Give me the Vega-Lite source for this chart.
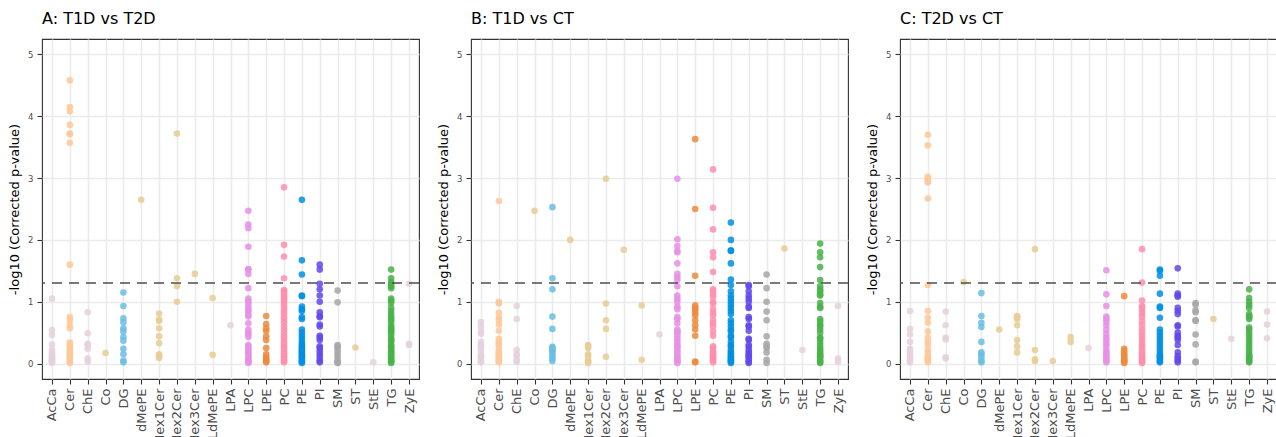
{
"$schema": "https://vega.github.io/schema/vega-lite/v6.json",
"padding": {"left": 8, "top": 10, "right": 0, "bottom": 0},
"background": "white",
"datasets": {
"pts": [
{"panel":"A","class":"AcCa","logp":1.05},{"panel":"A","class":"AcCa","logp":0.54},{"panel":"A","class":"AcCa","logp":0.46},{"panel":"A","class":"AcCa","logp":0.31},{"panel":"A","class":"AcCa","logp":0.22},{"panel":"A","class":"AcCa","logp":0.17},{"panel":"A","class":"AcCa","logp":0.14},{"panel":"A","class":"AcCa","logp":0.11},{"panel":"A","class":"AcCa","logp":0.09},{"panel":"A","class":"AcCa","logp":0.07},{"panel":"A","class":"AcCa","logp":0.05},{"panel":"A","class":"AcCa","logp":0.03},{"panel":"A","class":"AcCa","logp":0.02},{"panel":"A","class":"AcCa","logp":0.01},
{"panel":"A","class":"Cer","logp":4.58},{"panel":"A","class":"Cer","logp":4.15},{"panel":"A","class":"Cer","logp":4.08},{"panel":"A","class":"Cer","logp":3.86},{"panel":"A","class":"Cer","logp":3.72},{"panel":"A","class":"Cer","logp":3.71},{"panel":"A","class":"Cer","logp":3.57},{"panel":"A","class":"Cer","logp":1.6},{"panel":"A","class":"Cer","logp":0.75},{"panel":"A","class":"Cer","logp":0.69},{"panel":"A","class":"Cer","logp":0.61},{"panel":"A","class":"Cer","logp":0.57},{"panel":"A","class":"Cer","logp":0.34},{"panel":"A","class":"Cer","logp":0.31},{"panel":"A","class":"Cer","logp":0.28},{"panel":"A","class":"Cer","logp":0.25},{"panel":"A","class":"Cer","logp":0.21},{"panel":"A","class":"Cer","logp":0.18},{"panel":"A","class":"Cer","logp":0.15},{"panel":"A","class":"Cer","logp":0.12},{"panel":"A","class":"Cer","logp":0.09},{"panel":"A","class":"Cer","logp":0.06},{"panel":"A","class":"Cer","logp":0.03},{"panel":"A","class":"Cer","logp":0.01},
{"panel":"A","class":"ChE","logp":0.83},{"panel":"A","class":"ChE","logp":0.49},{"panel":"A","class":"ChE","logp":0.32},{"panel":"A","class":"ChE","logp":0.29},{"panel":"A","class":"ChE","logp":0.24},{"panel":"A","class":"ChE","logp":0.08},{"panel":"A","class":"ChE","logp":0.03},
{"panel":"A","class":"Co","logp":0.17},
{"panel":"A","class":"DG","logp":1.15},{"panel":"A","class":"DG","logp":0.93},{"panel":"A","class":"DG","logp":0.73},{"panel":"A","class":"DG","logp":0.67},{"panel":"A","class":"DG","logp":0.57},{"panel":"A","class":"DG","logp":0.52},{"panel":"A","class":"DG","logp":0.43},{"panel":"A","class":"DG","logp":0.37},{"panel":"A","class":"DG","logp":0.24},{"panel":"A","class":"DG","logp":0.15},{"panel":"A","class":"DG","logp":0.05},{"panel":"A","class":"DG","logp":0.02},
{"panel":"A","class":"dMePE","logp":2.65},
{"panel":"A","class":"Hex1Cer","logp":0.81},{"panel":"A","class":"Hex1Cer","logp":0.71},{"panel":"A","class":"Hex1Cer","logp":0.69},{"panel":"A","class":"Hex1Cer","logp":0.57},{"panel":"A","class":"Hex1Cer","logp":0.44},{"panel":"A","class":"Hex1Cer","logp":0.33},{"panel":"A","class":"Hex1Cer","logp":0.15},{"panel":"A","class":"Hex1Cer","logp":0.12},{"panel":"A","class":"Hex1Cer","logp":0.09},
{"panel":"A","class":"Hex2Cer","logp":3.72},{"panel":"A","class":"Hex2Cer","logp":1.38},{"panel":"A","class":"Hex2Cer","logp":1.25},{"panel":"A","class":"Hex2Cer","logp":1.0},
{"panel":"A","class":"Hex3Cer","logp":1.45},
{"panel":"A","class":"LdMePE","logp":1.06},{"panel":"A","class":"LdMePE","logp":0.14},
{"panel":"A","class":"LPA","logp":0.62},
{"panel":"A","class":"LPC","logp":2.47},{"panel":"A","class":"LPC","logp":2.25},{"panel":"A","class":"LPC","logp":2.19},{"panel":"A","class":"LPC","logp":1.89},{"panel":"A","class":"LPC","logp":1.53},{"panel":"A","class":"LPC","logp":1.52},{"panel":"A","class":"LPC","logp":1.45},{"panel":"A","class":"LPC","logp":1.22},{"panel":"A","class":"LPC","logp":1.05},{"panel":"A","class":"LPC","logp":1.01},{"panel":"A","class":"LPC","logp":0.97},{"panel":"A","class":"LPC","logp":0.92},{"panel":"A","class":"LPC","logp":0.87},{"panel":"A","class":"LPC","logp":0.84},{"panel":"A","class":"LPC","logp":0.79},{"panel":"A","class":"LPC","logp":0.76},{"panel":"A","class":"LPC","logp":0.65},{"panel":"A","class":"LPC","logp":0.55},{"panel":"A","class":"LPC","logp":0.5},{"panel":"A","class":"LPC","logp":0.47},{"panel":"A","class":"LPC","logp":0.43},{"panel":"A","class":"LPC","logp":0.3},{"panel":"A","class":"LPC","logp":0.27},{"panel":"A","class":"LPC","logp":0.24},{"panel":"A","class":"LPC","logp":0.2},{"panel":"A","class":"LPC","logp":0.17},{"panel":"A","class":"LPC","logp":0.14},{"panel":"A","class":"LPC","logp":0.1},{"panel":"A","class":"LPC","logp":0.07},{"panel":"A","class":"LPC","logp":0.05},{"panel":"A","class":"LPC","logp":0.03},{"panel":"A","class":"LPC","logp":0.01},
{"panel":"A","class":"LPE","logp":0.77},{"panel":"A","class":"LPE","logp":0.64},{"panel":"A","class":"LPE","logp":0.57},{"panel":"A","class":"LPE","logp":0.53},{"panel":"A","class":"LPE","logp":0.44},{"panel":"A","class":"LPE","logp":0.38},{"panel":"A","class":"LPE","logp":0.25},{"panel":"A","class":"LPE","logp":0.15},{"panel":"A","class":"LPE","logp":0.1},{"panel":"A","class":"LPE","logp":0.07},{"panel":"A","class":"LPE","logp":0.04},{"panel":"A","class":"LPE","logp":0.02},
{"panel":"A","class":"PC","logp":2.85},{"panel":"A","class":"PC","logp":1.92},{"panel":"A","class":"PC","logp":1.73},{"panel":"A","class":"PC","logp":1.38},{"panel":"A","class":"PC","logp":1.19},{"panel":"A","class":"PC","logp":1.17},{"panel":"A","class":"PC","logp":1.14},{"panel":"A","class":"PC","logp":1.11},{"panel":"A","class":"PC","logp":1.07},{"panel":"A","class":"PC","logp":1.04},{"panel":"A","class":"PC","logp":1.0},{"panel":"A","class":"PC","logp":0.95},{"panel":"A","class":"PC","logp":0.9},{"panel":"A","class":"PC","logp":0.86},{"panel":"A","class":"PC","logp":0.81},{"panel":"A","class":"PC","logp":0.75},{"panel":"A","class":"PC","logp":0.71},{"panel":"A","class":"PC","logp":0.66},{"panel":"A","class":"PC","logp":0.6},{"panel":"A","class":"PC","logp":0.55},{"panel":"A","class":"PC","logp":0.5},{"panel":"A","class":"PC","logp":0.45},{"panel":"A","class":"PC","logp":0.41},{"panel":"A","class":"PC","logp":0.36},{"panel":"A","class":"PC","logp":0.32},{"panel":"A","class":"PC","logp":0.28},{"panel":"A","class":"PC","logp":0.25},{"panel":"A","class":"PC","logp":0.22},{"panel":"A","class":"PC","logp":0.18},{"panel":"A","class":"PC","logp":0.15},{"panel":"A","class":"PC","logp":0.12},{"panel":"A","class":"PC","logp":0.1},{"panel":"A","class":"PC","logp":0.07},{"panel":"A","class":"PC","logp":0.04},{"panel":"A","class":"PC","logp":0.02},
{"panel":"A","class":"PE","logp":2.65},{"panel":"A","class":"PE","logp":1.67},{"panel":"A","class":"PE","logp":1.44},{"panel":"A","class":"PE","logp":1.1},{"panel":"A","class":"PE","logp":1.09},{"panel":"A","class":"PE","logp":0.92},{"panel":"A","class":"PE","logp":0.88},{"panel":"A","class":"PE","logp":0.85},{"panel":"A","class":"PE","logp":0.75},{"panel":"A","class":"PE","logp":0.72},{"panel":"A","class":"PE","logp":0.55},{"panel":"A","class":"PE","logp":0.5},{"panel":"A","class":"PE","logp":0.45},{"panel":"A","class":"PE","logp":0.4},{"panel":"A","class":"PE","logp":0.35},{"panel":"A","class":"PE","logp":0.31},{"panel":"A","class":"PE","logp":0.28},{"panel":"A","class":"PE","logp":0.25},{"panel":"A","class":"PE","logp":0.22},{"panel":"A","class":"PE","logp":0.2},{"panel":"A","class":"PE","logp":0.17},{"panel":"A","class":"PE","logp":0.15},{"panel":"A","class":"PE","logp":0.12},{"panel":"A","class":"PE","logp":0.1},{"panel":"A","class":"PE","logp":0.08},{"panel":"A","class":"PE","logp":0.05},{"panel":"A","class":"PE","logp":0.03},{"panel":"A","class":"PE","logp":0.01},
{"panel":"A","class":"PI","logp":1.6},{"panel":"A","class":"PI","logp":1.52},{"panel":"A","class":"PI","logp":1.29},{"panel":"A","class":"PI","logp":1.2},{"panel":"A","class":"PI","logp":1.1},{"panel":"A","class":"PI","logp":1.0},{"panel":"A","class":"PI","logp":0.83},{"panel":"A","class":"PI","logp":0.77},{"panel":"A","class":"PI","logp":0.75},{"panel":"A","class":"PI","logp":0.63},{"panel":"A","class":"PI","logp":0.6},{"panel":"A","class":"PI","logp":0.45},{"panel":"A","class":"PI","logp":0.42},{"panel":"A","class":"PI","logp":0.38},{"panel":"A","class":"PI","logp":0.28},{"panel":"A","class":"PI","logp":0.25},{"panel":"A","class":"PI","logp":0.2},{"panel":"A","class":"PI","logp":0.15},{"panel":"A","class":"PI","logp":0.1},{"panel":"A","class":"PI","logp":0.05},{"panel":"A","class":"PI","logp":0.02},
{"panel":"A","class":"SM","logp":1.18},{"panel":"A","class":"SM","logp":0.99},{"panel":"A","class":"SM","logp":0.3},{"panel":"A","class":"SM","logp":0.28},{"panel":"A","class":"SM","logp":0.25},{"panel":"A","class":"SM","logp":0.2},{"panel":"A","class":"SM","logp":0.15},{"panel":"A","class":"SM","logp":0.1},{"panel":"A","class":"SM","logp":0.05},{"panel":"A","class":"SM","logp":0.02},{"panel":"A","class":"SM","logp":0.01},
{"panel":"A","class":"ST","logp":0.26},
{"panel":"A","class":"StE","logp":0.02},
{"panel":"A","class":"TG","logp":1.52},{"panel":"A","class":"TG","logp":1.38},{"panel":"A","class":"TG","logp":1.32},{"panel":"A","class":"TG","logp":1.28},{"panel":"A","class":"TG","logp":1.25},{"panel":"A","class":"TG","logp":1.22},{"panel":"A","class":"TG","logp":1.05},{"panel":"A","class":"TG","logp":1.02},{"panel":"A","class":"TG","logp":0.98},{"panel":"A","class":"TG","logp":0.9},{"panel":"A","class":"TG","logp":0.85},{"panel":"A","class":"TG","logp":0.8},{"panel":"A","class":"TG","logp":0.75},{"panel":"A","class":"TG","logp":0.72},{"panel":"A","class":"TG","logp":0.68},{"panel":"A","class":"TG","logp":0.62},{"panel":"A","class":"TG","logp":0.58},{"panel":"A","class":"TG","logp":0.55},{"panel":"A","class":"TG","logp":0.52},{"panel":"A","class":"TG","logp":0.5},{"panel":"A","class":"TG","logp":0.45},{"panel":"A","class":"TG","logp":0.4},{"panel":"A","class":"TG","logp":0.38},{"panel":"A","class":"TG","logp":0.35},{"panel":"A","class":"TG","logp":0.3},{"panel":"A","class":"TG","logp":0.28},{"panel":"A","class":"TG","logp":0.25},{"panel":"A","class":"TG","logp":0.22},{"panel":"A","class":"TG","logp":0.2},{"panel":"A","class":"TG","logp":0.17},{"panel":"A","class":"TG","logp":0.15},{"panel":"A","class":"TG","logp":0.12},{"panel":"A","class":"TG","logp":0.1},{"panel":"A","class":"TG","logp":0.07},{"panel":"A","class":"TG","logp":0.05},{"panel":"A","class":"TG","logp":0.03},{"panel":"A","class":"TG","logp":0.01},
{"panel":"A","class":"ZyE","logp":1.29},{"panel":"A","class":"ZyE","logp":0.32},{"panel":"A","class":"ZyE","logp":0.3},

{"panel":"B","class":"AcCa","logp":0.67},{"panel":"B","class":"AcCa","logp":0.6},{"panel":"B","class":"AcCa","logp":0.52},{"panel":"B","class":"AcCa","logp":0.48},{"panel":"B","class":"AcCa","logp":0.35},{"panel":"B","class":"AcCa","logp":0.3},{"panel":"B","class":"AcCa","logp":0.27},{"panel":"B","class":"AcCa","logp":0.25},{"panel":"B","class":"AcCa","logp":0.2},{"panel":"B","class":"AcCa","logp":0.15},{"panel":"B","class":"AcCa","logp":0.12},{"panel":"B","class":"AcCa","logp":0.1},{"panel":"B","class":"AcCa","logp":0.07},{"panel":"B","class":"AcCa","logp":0.04},{"panel":"B","class":"AcCa","logp":0.02},
{"panel":"B","class":"Cer","logp":2.63},{"panel":"B","class":"Cer","logp":1.0},{"panel":"B","class":"Cer","logp":0.97},{"panel":"B","class":"Cer","logp":0.82},{"panel":"B","class":"Cer","logp":0.74},{"panel":"B","class":"Cer","logp":0.7},{"panel":"B","class":"Cer","logp":0.63},{"panel":"B","class":"Cer","logp":0.53},{"panel":"B","class":"Cer","logp":0.4},{"panel":"B","class":"Cer","logp":0.35},{"panel":"B","class":"Cer","logp":0.32},{"panel":"B","class":"Cer","logp":0.3},{"panel":"B","class":"Cer","logp":0.25},{"panel":"B","class":"Cer","logp":0.2},{"panel":"B","class":"Cer","logp":0.18},{"panel":"B","class":"Cer","logp":0.15},{"panel":"B","class":"Cer","logp":0.12},{"panel":"B","class":"Cer","logp":0.1},{"panel":"B","class":"Cer","logp":0.07},{"panel":"B","class":"Cer","logp":0.04},{"panel":"B","class":"Cer","logp":0.02},
{"panel":"B","class":"ChE","logp":0.93},{"panel":"B","class":"ChE","logp":0.72},{"panel":"B","class":"ChE","logp":0.22},{"panel":"B","class":"ChE","logp":0.15},{"panel":"B","class":"ChE","logp":0.12},{"panel":"B","class":"ChE","logp":0.05},{"panel":"B","class":"ChE","logp":0.03},
{"panel":"B","class":"Co","logp":2.47},
{"panel":"B","class":"DG","logp":2.53},{"panel":"B","class":"DG","logp":1.38},{"panel":"B","class":"DG","logp":1.2},{"panel":"B","class":"DG","logp":0.76},{"panel":"B","class":"DG","logp":0.56},{"panel":"B","class":"DG","logp":0.27},{"panel":"B","class":"DG","logp":0.25},{"panel":"B","class":"DG","logp":0.22},{"panel":"B","class":"DG","logp":0.2},{"panel":"B","class":"DG","logp":0.17},{"panel":"B","class":"DG","logp":0.12},{"panel":"B","class":"DG","logp":0.08},{"panel":"B","class":"DG","logp":0.04},
{"panel":"B","class":"dMePE","logp":2.0},
{"panel":"B","class":"Hex1Cer","logp":0.3},{"panel":"B","class":"Hex1Cer","logp":0.28},{"panel":"B","class":"Hex1Cer","logp":0.25},{"panel":"B","class":"Hex1Cer","logp":0.15},{"panel":"B","class":"Hex1Cer","logp":0.12},{"panel":"B","class":"Hex1Cer","logp":0.05},{"panel":"B","class":"Hex1Cer","logp":0.03},{"panel":"B","class":"Hex1Cer","logp":0.01},
{"panel":"B","class":"Hex2Cer","logp":2.99},{"panel":"B","class":"Hex2Cer","logp":0.97},{"panel":"B","class":"Hex2Cer","logp":0.7},{"panel":"B","class":"Hex2Cer","logp":0.56},{"panel":"B","class":"Hex2Cer","logp":0.11},
{"panel":"B","class":"Hex3Cer","logp":1.84},
{"panel":"B","class":"LdMePE","logp":0.94},{"panel":"B","class":"LdMePE","logp":0.06},
{"panel":"B","class":"LPA","logp":0.47},
{"panel":"B","class":"LPC","logp":2.99},{"panel":"B","class":"LPC","logp":2.01},{"panel":"B","class":"LPC","logp":1.9},{"panel":"B","class":"LPC","logp":1.82},{"panel":"B","class":"LPC","logp":1.8},{"panel":"B","class":"LPC","logp":1.62},{"panel":"B","class":"LPC","logp":1.45},{"panel":"B","class":"LPC","logp":1.4},{"panel":"B","class":"LPC","logp":1.35},{"panel":"B","class":"LPC","logp":1.25},{"panel":"B","class":"LPC","logp":1.1},{"panel":"B","class":"LPC","logp":1.05},{"panel":"B","class":"LPC","logp":1.0},{"panel":"B","class":"LPC","logp":0.92},{"panel":"B","class":"LPC","logp":0.88},{"panel":"B","class":"LPC","logp":0.75},{"panel":"B","class":"LPC","logp":0.72},{"panel":"B","class":"LPC","logp":0.65},{"panel":"B","class":"LPC","logp":0.55},{"panel":"B","class":"LPC","logp":0.52},{"panel":"B","class":"LPC","logp":0.5},{"panel":"B","class":"LPC","logp":0.45},{"panel":"B","class":"LPC","logp":0.4},{"panel":"B","class":"LPC","logp":0.35},{"panel":"B","class":"LPC","logp":0.3},{"panel":"B","class":"LPC","logp":0.27},{"panel":"B","class":"LPC","logp":0.25},{"panel":"B","class":"LPC","logp":0.2},{"panel":"B","class":"LPC","logp":0.17},{"panel":"B","class":"LPC","logp":0.13},{"panel":"B","class":"LPC","logp":0.1},{"panel":"B","class":"LPC","logp":0.07},{"panel":"B","class":"LPC","logp":0.05},{"panel":"B","class":"LPC","logp":0.03},{"panel":"B","class":"LPC","logp":0.01},
{"panel":"B","class":"LPE","logp":3.63},{"panel":"B","class":"LPE","logp":2.5},{"panel":"B","class":"LPE","logp":1.42},{"panel":"B","class":"LPE","logp":0.94},{"panel":"B","class":"LPE","logp":0.9},{"panel":"B","class":"LPE","logp":0.87},{"panel":"B","class":"LPE","logp":0.82},{"panel":"B","class":"LPE","logp":0.78},{"panel":"B","class":"LPE","logp":0.7},{"panel":"B","class":"LPE","logp":0.62},{"panel":"B","class":"LPE","logp":0.55},{"panel":"B","class":"LPE","logp":0.45},{"panel":"B","class":"LPE","logp":0.03},{"panel":"B","class":"LPE","logp":0.02},
{"panel":"B","class":"PC","logp":3.14},{"panel":"B","class":"PC","logp":2.52},{"panel":"B","class":"PC","logp":2.17},{"panel":"B","class":"PC","logp":1.8},{"panel":"B","class":"PC","logp":1.72},{"panel":"B","class":"PC","logp":1.48},{"panel":"B","class":"PC","logp":1.2},{"panel":"B","class":"PC","logp":1.17},{"panel":"B","class":"PC","logp":1.12},{"panel":"B","class":"PC","logp":1.08},{"panel":"B","class":"PC","logp":1.0},{"panel":"B","class":"PC","logp":0.97},{"panel":"B","class":"PC","logp":0.88},{"panel":"B","class":"PC","logp":0.82},{"panel":"B","class":"PC","logp":0.78},{"panel":"B","class":"PC","logp":0.7},{"panel":"B","class":"PC","logp":0.65},{"panel":"B","class":"PC","logp":0.6},{"panel":"B","class":"PC","logp":0.52},{"panel":"B","class":"PC","logp":0.45},{"panel":"B","class":"PC","logp":0.28},{"panel":"B","class":"PC","logp":0.25},{"panel":"B","class":"PC","logp":0.2},{"panel":"B","class":"PC","logp":0.17},{"panel":"B","class":"PC","logp":0.14},{"panel":"B","class":"PC","logp":0.12},{"panel":"B","class":"PC","logp":0.1},{"panel":"B","class":"PC","logp":0.07},{"panel":"B","class":"PC","logp":0.05},{"panel":"B","class":"PC","logp":0.02},
{"panel":"B","class":"PE","logp":2.28},{"panel":"B","class":"PE","logp":2.0},{"panel":"B","class":"PE","logp":1.83},{"panel":"B","class":"PE","logp":1.82},{"panel":"B","class":"PE","logp":1.62},{"panel":"B","class":"PE","logp":1.36},{"panel":"B","class":"PE","logp":1.27},{"panel":"B","class":"PE","logp":1.17},{"panel":"B","class":"PE","logp":1.1},{"panel":"B","class":"PE","logp":1.05},{"panel":"B","class":"PE","logp":1.0},{"panel":"B","class":"PE","logp":0.95},{"panel":"B","class":"PE","logp":0.9},{"panel":"B","class":"PE","logp":0.85},{"panel":"B","class":"PE","logp":0.8},{"panel":"B","class":"PE","logp":0.7},{"panel":"B","class":"PE","logp":0.65},{"panel":"B","class":"PE","logp":0.6},{"panel":"B","class":"PE","logp":0.55},{"panel":"B","class":"PE","logp":0.52},{"panel":"B","class":"PE","logp":0.45},{"panel":"B","class":"PE","logp":0.42},{"panel":"B","class":"PE","logp":0.35},{"panel":"B","class":"PE","logp":0.3},{"panel":"B","class":"PE","logp":0.27},{"panel":"B","class":"PE","logp":0.22},{"panel":"B","class":"PE","logp":0.18},{"panel":"B","class":"PE","logp":0.15},{"panel":"B","class":"PE","logp":0.12},{"panel":"B","class":"PE","logp":0.1},{"panel":"B","class":"PE","logp":0.07},{"panel":"B","class":"PE","logp":0.05},{"panel":"B","class":"PE","logp":0.03},{"panel":"B","class":"PE","logp":0.01},
{"panel":"B","class":"PI","logp":1.27},{"panel":"B","class":"PI","logp":1.25},{"panel":"B","class":"PI","logp":1.17},{"panel":"B","class":"PI","logp":1.1},{"panel":"B","class":"PI","logp":1.05},{"panel":"B","class":"PI","logp":1.0},{"panel":"B","class":"PI","logp":0.92},{"panel":"B","class":"PI","logp":0.9},{"panel":"B","class":"PI","logp":0.75},{"panel":"B","class":"PI","logp":0.72},{"panel":"B","class":"PI","logp":0.62},{"panel":"B","class":"PI","logp":0.6},{"panel":"B","class":"PI","logp":0.53},{"panel":"B","class":"PI","logp":0.4},{"panel":"B","class":"PI","logp":0.38},{"panel":"B","class":"PI","logp":0.3},{"panel":"B","class":"PI","logp":0.27},{"panel":"B","class":"PI","logp":0.22},{"panel":"B","class":"PI","logp":0.18},{"panel":"B","class":"PI","logp":0.15},{"panel":"B","class":"PI","logp":0.12},{"panel":"B","class":"PI","logp":0.1},{"panel":"B","class":"PI","logp":0.06},{"panel":"B","class":"PI","logp":0.03},{"panel":"B","class":"PI","logp":0.01},
{"panel":"B","class":"SM","logp":1.44},{"panel":"B","class":"SM","logp":1.22},{"panel":"B","class":"SM","logp":1.0},{"panel":"B","class":"SM","logp":0.84},{"panel":"B","class":"SM","logp":0.7},{"panel":"B","class":"SM","logp":0.44},{"panel":"B","class":"SM","logp":0.32},{"panel":"B","class":"SM","logp":0.28},{"panel":"B","class":"SM","logp":0.25},{"panel":"B","class":"SM","logp":0.18},{"panel":"B","class":"SM","logp":0.06},{"panel":"B","class":"SM","logp":0.01},
{"panel":"B","class":"ST","logp":1.86},
{"panel":"B","class":"StE","logp":0.22},
{"panel":"B","class":"TG","logp":1.94},{"panel":"B","class":"TG","logp":1.8},{"panel":"B","class":"TG","logp":1.72},{"panel":"B","class":"TG","logp":1.56},{"panel":"B","class":"TG","logp":1.35},{"panel":"B","class":"TG","logp":1.25},{"panel":"B","class":"TG","logp":1.2},{"panel":"B","class":"TG","logp":1.17},{"panel":"B","class":"TG","logp":1.12},{"panel":"B","class":"TG","logp":1.1},{"panel":"B","class":"TG","logp":0.98},{"panel":"B","class":"TG","logp":0.92},{"panel":"B","class":"TG","logp":0.9},{"panel":"B","class":"TG","logp":0.72},{"panel":"B","class":"TG","logp":0.68},{"panel":"B","class":"TG","logp":0.63},{"panel":"B","class":"TG","logp":0.6},{"panel":"B","class":"TG","logp":0.55},{"panel":"B","class":"TG","logp":0.5},{"panel":"B","class":"TG","logp":0.42},{"panel":"B","class":"TG","logp":0.4},{"panel":"B","class":"TG","logp":0.35},{"panel":"B","class":"TG","logp":0.3},{"panel":"B","class":"TG","logp":0.25},{"panel":"B","class":"TG","logp":0.22},{"panel":"B","class":"TG","logp":0.18},{"panel":"B","class":"TG","logp":0.15},{"panel":"B","class":"TG","logp":0.12},{"panel":"B","class":"TG","logp":0.1},{"panel":"B","class":"TG","logp":0.06},{"panel":"B","class":"TG","logp":0.03},{"panel":"B","class":"TG","logp":0.01},
{"panel":"B","class":"ZyE","logp":0.93},{"panel":"B","class":"ZyE","logp":0.08},{"panel":"B","class":"ZyE","logp":0.03},

{"panel":"C","class":"AcCa","logp":0.85},{"panel":"C","class":"AcCa","logp":0.56},{"panel":"C","class":"AcCa","logp":0.47},{"panel":"C","class":"AcCa","logp":0.35},{"panel":"C","class":"AcCa","logp":0.24},{"panel":"C","class":"AcCa","logp":0.2},{"panel":"C","class":"AcCa","logp":0.15},{"panel":"C","class":"AcCa","logp":0.12},{"panel":"C","class":"AcCa","logp":0.08},{"panel":"C","class":"AcCa","logp":0.05},{"panel":"C","class":"AcCa","logp":0.02},
{"panel":"C","class":"Cer","logp":3.7},{"panel":"C","class":"Cer","logp":3.53},{"panel":"C","class":"Cer","logp":3.02},{"panel":"C","class":"Cer","logp":2.98},{"panel":"C","class":"Cer","logp":2.95},{"panel":"C","class":"Cer","logp":2.93},{"panel":"C","class":"Cer","logp":2.67},{"panel":"C","class":"Cer","logp":1.27},{"panel":"C","class":"Cer","logp":0.85},{"panel":"C","class":"Cer","logp":0.74},{"panel":"C","class":"Cer","logp":0.66},{"panel":"C","class":"Cer","logp":0.52},{"panel":"C","class":"Cer","logp":0.42},{"panel":"C","class":"Cer","logp":0.35},{"panel":"C","class":"Cer","logp":0.3},{"panel":"C","class":"Cer","logp":0.22},{"panel":"C","class":"Cer","logp":0.18},{"panel":"C","class":"Cer","logp":0.12},{"panel":"C","class":"Cer","logp":0.1},{"panel":"C","class":"Cer","logp":0.07},{"panel":"C","class":"Cer","logp":0.05},{"panel":"C","class":"Cer","logp":0.02},
{"panel":"C","class":"ChE","logp":0.84},{"panel":"C","class":"ChE","logp":0.62},{"panel":"C","class":"ChE","logp":0.42},{"panel":"C","class":"ChE","logp":0.39},{"panel":"C","class":"ChE","logp":0.1},{"panel":"C","class":"ChE","logp":0.08},
{"panel":"C","class":"Co","logp":1.32},
{"panel":"C","class":"DG","logp":1.14},{"panel":"C","class":"DG","logp":0.77},{"panel":"C","class":"DG","logp":0.66},{"panel":"C","class":"DG","logp":0.59},{"panel":"C","class":"DG","logp":0.35},{"panel":"C","class":"DG","logp":0.18},{"panel":"C","class":"DG","logp":0.15},{"panel":"C","class":"DG","logp":0.1},{"panel":"C","class":"DG","logp":0.05},{"panel":"C","class":"DG","logp":0.02},
{"panel":"C","class":"dMePE","logp":0.55},
{"panel":"C","class":"Hex1Cer","logp":0.77},{"panel":"C","class":"Hex1Cer","logp":0.75},{"panel":"C","class":"Hex1Cer","logp":0.72},{"panel":"C","class":"Hex1Cer","logp":0.62},{"panel":"C","class":"Hex1Cer","logp":0.38},{"panel":"C","class":"Hex1Cer","logp":0.28},{"panel":"C","class":"Hex1Cer","logp":0.18},
{"panel":"C","class":"Hex2Cer","logp":1.85},{"panel":"C","class":"Hex2Cer","logp":0.22},{"panel":"C","class":"Hex2Cer","logp":0.07},{"panel":"C","class":"Hex2Cer","logp":0.04},
{"panel":"C","class":"Hex3Cer","logp":0.04},
{"panel":"C","class":"LdMePE","logp":0.43},{"panel":"C","class":"LdMePE","logp":0.35},
{"panel":"C","class":"LPA","logp":0.25},
{"panel":"C","class":"LPC","logp":1.51},{"panel":"C","class":"LPC","logp":1.12},{"panel":"C","class":"LPC","logp":0.93},{"panel":"C","class":"LPC","logp":0.76},{"panel":"C","class":"LPC","logp":0.72},{"panel":"C","class":"LPC","logp":0.68},{"panel":"C","class":"LPC","logp":0.62},{"panel":"C","class":"LPC","logp":0.55},{"panel":"C","class":"LPC","logp":0.48},{"panel":"C","class":"LPC","logp":0.42},{"panel":"C","class":"LPC","logp":0.38},{"panel":"C","class":"LPC","logp":0.33},{"panel":"C","class":"LPC","logp":0.28},{"panel":"C","class":"LPC","logp":0.22},{"panel":"C","class":"LPC","logp":0.18},{"panel":"C","class":"LPC","logp":0.15},{"panel":"C","class":"LPC","logp":0.12},{"panel":"C","class":"LPC","logp":0.08},{"panel":"C","class":"LPC","logp":0.05},{"panel":"C","class":"LPC","logp":0.02},
{"panel":"C","class":"LPE","logp":1.09},{"panel":"C","class":"LPE","logp":0.24},{"panel":"C","class":"LPE","logp":0.2},{"panel":"C","class":"LPE","logp":0.16},{"panel":"C","class":"LPE","logp":0.13},{"panel":"C","class":"LPE","logp":0.1},{"panel":"C","class":"LPE","logp":0.07},{"panel":"C","class":"LPE","logp":0.05},{"panel":"C","class":"LPE","logp":0.03},{"panel":"C","class":"LPE","logp":0.01},
{"panel":"C","class":"PC","logp":1.85},{"panel":"C","class":"PC","logp":1.31},{"panel":"C","class":"PC","logp":1.02},{"panel":"C","class":"PC","logp":0.93},{"panel":"C","class":"PC","logp":0.9},{"panel":"C","class":"PC","logp":0.85},{"panel":"C","class":"PC","logp":0.8},{"panel":"C","class":"PC","logp":0.75},{"panel":"C","class":"PC","logp":0.68},{"panel":"C","class":"PC","logp":0.62},{"panel":"C","class":"PC","logp":0.55},{"panel":"C","class":"PC","logp":0.5},{"panel":"C","class":"PC","logp":0.45},{"panel":"C","class":"PC","logp":0.4},{"panel":"C","class":"PC","logp":0.35},{"panel":"C","class":"PC","logp":0.3},{"panel":"C","class":"PC","logp":0.27},{"panel":"C","class":"PC","logp":0.22},{"panel":"C","class":"PC","logp":0.18},{"panel":"C","class":"PC","logp":0.15},{"panel":"C","class":"PC","logp":0.12},{"panel":"C","class":"PC","logp":0.1},{"panel":"C","class":"PC","logp":0.07},{"panel":"C","class":"PC","logp":0.05},{"panel":"C","class":"PC","logp":0.03},{"panel":"C","class":"PC","logp":0.01},
{"panel":"C","class":"PE","logp":1.52},{"panel":"C","class":"PE","logp":1.5},{"panel":"C","class":"PE","logp":1.42},{"panel":"C","class":"PE","logp":1.13},{"panel":"C","class":"PE","logp":0.92},{"panel":"C","class":"PE","logp":0.9},{"panel":"C","class":"PE","logp":0.74},{"panel":"C","class":"PE","logp":0.55},{"panel":"C","class":"PE","logp":0.5},{"panel":"C","class":"PE","logp":0.45},{"panel":"C","class":"PE","logp":0.4},{"panel":"C","class":"PE","logp":0.35},{"panel":"C","class":"PE","logp":0.3},{"panel":"C","class":"PE","logp":0.25},{"panel":"C","class":"PE","logp":0.2},{"panel":"C","class":"PE","logp":0.15},{"panel":"C","class":"PE","logp":0.12},{"panel":"C","class":"PE","logp":0.1},{"panel":"C","class":"PE","logp":0.07},{"panel":"C","class":"PE","logp":0.04},{"panel":"C","class":"PE","logp":0.02},
{"panel":"C","class":"PI","logp":1.54},{"panel":"C","class":"PI","logp":1.13},{"panel":"C","class":"PI","logp":1.1},{"panel":"C","class":"PI","logp":1.08},{"panel":"C","class":"PI","logp":0.9},{"panel":"C","class":"PI","logp":0.85},{"panel":"C","class":"PI","logp":0.8},{"panel":"C","class":"PI","logp":0.62},{"panel":"C","class":"PI","logp":0.6},{"panel":"C","class":"PI","logp":0.5},{"panel":"C","class":"PI","logp":0.45},{"panel":"C","class":"PI","logp":0.42},{"panel":"C","class":"PI","logp":0.38},{"panel":"C","class":"PI","logp":0.3},{"panel":"C","class":"PI","logp":0.18},{"panel":"C","class":"PI","logp":0.12},{"panel":"C","class":"PI","logp":0.08},{"panel":"C","class":"PI","logp":0.05},{"panel":"C","class":"PI","logp":0.02},
{"panel":"C","class":"SM","logp":0.98},{"panel":"C","class":"SM","logp":0.95},{"panel":"C","class":"SM","logp":0.86},{"panel":"C","class":"SM","logp":0.83},{"panel":"C","class":"SM","logp":0.7},{"panel":"C","class":"SM","logp":0.69},{"panel":"C","class":"SM","logp":0.47},{"panel":"C","class":"SM","logp":0.31},{"panel":"C","class":"SM","logp":0.03},{"panel":"C","class":"SM","logp":0.02},
{"panel":"C","class":"ST","logp":0.72},
{"panel":"C","class":"StE","logp":0.4},
{"panel":"C","class":"TG","logp":1.2},{"panel":"C","class":"TG","logp":1.06},{"panel":"C","class":"TG","logp":1.0},{"panel":"C","class":"TG","logp":0.95},{"panel":"C","class":"TG","logp":0.9},{"panel":"C","class":"TG","logp":0.8},{"panel":"C","class":"TG","logp":0.77},{"panel":"C","class":"TG","logp":0.75},{"panel":"C","class":"TG","logp":0.72},{"panel":"C","class":"TG","logp":0.58},{"panel":"C","class":"TG","logp":0.55},{"panel":"C","class":"TG","logp":0.5},{"panel":"C","class":"TG","logp":0.45},{"panel":"C","class":"TG","logp":0.4},{"panel":"C","class":"TG","logp":0.35},{"panel":"C","class":"TG","logp":0.3},{"panel":"C","class":"TG","logp":0.25},{"panel":"C","class":"TG","logp":0.2},{"panel":"C","class":"TG","logp":0.15},{"panel":"C","class":"TG","logp":0.12},{"panel":"C","class":"TG","logp":0.1},{"panel":"C","class":"TG","logp":0.07},{"panel":"C","class":"TG","logp":0.04},{"panel":"C","class":"TG","logp":0.02},
{"panel":"C","class":"ZyE","logp":0.84},{"panel":"C","class":"ZyE","logp":0.63},{"panel":"C","class":"ZyE","logp":0.41}
],
"cut": [{"alpha_log": 1.30103}]
},
"hconcat": [
{"title": "A: T1D vs T2D", "width": 377, "height": 340,
 "layer": [
  {"data": {"name": "pts"}, "transform": [{"filter": "datum.panel === 'A'"}],
   "mark": {"type": "circle", "size": 44, "opacity": 0.85},
   "encoding": {
    "x": {"field": "class", "type": "nominal", "scale": {"type": "point", "padding": 0.56, "domain": ["AcCa","Cer","ChE","Co","DG","dMePE","Hex1Cer","Hex2Cer","Hex3Cer","LdMePE","LPA","LPC","LPE","PC","PE","PI","SM","ST","StE","TG","ZyE"]},
          "axis": {"title": null, "labelAngle": 270, "labelFontSize": 13, "labelPadding": 4, "grid": true}},
    "y": {"field": "logp", "type": "quantitative", "scale": {"domain": [-0.25, 5.25], "nice": false, "zero": false},
          "axis": {"title": "-log10 (Corrected p-value)", "titleFontSize": 13, "labelFontSize": 8.5, "titlePadding": 6, "labelPadding": 4,
                   "values": [0,0.5,1,1.5,2,2.5,3,3.5,4,4.5,5],
                   "labelExpr": "datum.value % 1 === 0 ? '' + datum.value : ''",
                   "tickOpacity": {"condition": {"test": "datum.value % 1 === 0", "value": 1}, "value": 0},
                   "gridWidth": {"condition": {"test": "datum.value % 1 === 0", "value": 1.6}, "value": 0.8}}},
    "color": {"field": "class", "type": "nominal", "legend": null,
              "scale": {"domain": ["AcCa","Cer","ChE","Co","DG","dMePE","Hex1Cer","Hex2Cer","Hex3Cer","LdMePE","LPA","LPC","LPE","PC","PE","PI","SM","ST","StE","TG","ZyE"],
                        "range": ["#E4D1DD","#FFC899","#E4D1DD","#E7CC94","#6ABEE4","#E7CC94","#E7CC94","#E7CC94","#E7CC94","#E7CC94","#E4D1DD","#E68FE6","#EE8A3C","#FF8FAD","#008FE2","#6049ED","#A7A7A7","#E7CC94","#E4D1DD","#49B349","#E4D1DD"]}}
   }},
  {"data": {"name": "cut"}, "mark": {"type": "rule", "color": "#4D4D4D", "strokeWidth": 1.5, "strokeDash": [10, 7]},
   "encoding": {"y": {"field": "alpha_log", "type": "quantitative"}}}
 ]},
{"title": "B: T1D vs CT", "width": 377, "height": 340,
 "layer": [
  {"data": {"name": "pts"}, "transform": [{"filter": "datum.panel === 'B'"}],
   "mark": {"type": "circle", "size": 44, "opacity": 0.85},
   "encoding": {
    "x": {"field": "class", "type": "nominal", "scale": {"type": "point", "padding": 0.56, "domain": ["AcCa","Cer","ChE","Co","DG","dMePE","Hex1Cer","Hex2Cer","Hex3Cer","LdMePE","LPA","LPC","LPE","PC","PE","PI","SM","ST","StE","TG","ZyE"]},
          "axis": {"title": null, "labelAngle": 270, "labelFontSize": 13, "labelPadding": 4, "grid": true}},
    "y": {"field": "logp", "type": "quantitative", "scale": {"domain": [-0.25, 5.25], "nice": false, "zero": false},
          "axis": {"title": "-log10 (Corrected p-value)", "titleFontSize": 13, "labelFontSize": 8.5, "titlePadding": 6, "labelPadding": 4,
                   "values": [0,0.5,1,1.5,2,2.5,3,3.5,4,4.5,5],
                   "labelExpr": "datum.value % 1 === 0 ? '' + datum.value : ''",
                   "tickOpacity": {"condition": {"test": "datum.value % 1 === 0", "value": 1}, "value": 0},
                   "gridWidth": {"condition": {"test": "datum.value % 1 === 0", "value": 1.6}, "value": 0.8}}},
    "color": {"field": "class", "type": "nominal", "legend": null}
   }},
  {"data": {"name": "cut"}, "mark": {"type": "rule", "color": "#4D4D4D", "strokeWidth": 1.5, "strokeDash": [10, 7]},
   "encoding": {"y": {"field": "alpha_log", "type": "quantitative"}}}
 ]},
{"title": "C: T2D vs CT", "width": 377, "height": 340,
 "layer": [
  {"data": {"name": "pts"}, "transform": [{"filter": "datum.panel === 'C'"}],
   "mark": {"type": "circle", "size": 44, "opacity": 0.85},
   "encoding": {
    "x": {"field": "class", "type": "nominal", "scale": {"type": "point", "padding": 0.56, "domain": ["AcCa","Cer","ChE","Co","DG","dMePE","Hex1Cer","Hex2Cer","Hex3Cer","LdMePE","LPA","LPC","LPE","PC","PE","PI","SM","ST","StE","TG","ZyE"]},
          "axis": {"title": null, "labelAngle": 270, "labelFontSize": 13, "labelPadding": 4, "grid": true}},
    "y": {"field": "logp", "type": "quantitative", "scale": {"domain": [-0.25, 5.25], "nice": false, "zero": false},
          "axis": {"title": "-log10 (Corrected p-value)", "titleFontSize": 13, "labelFontSize": 8.5, "titlePadding": 6, "labelPadding": 4,
                   "values": [0,0.5,1,1.5,2,2.5,3,3.5,4,4.5,5],
                   "labelExpr": "datum.value % 1 === 0 ? '' + datum.value : ''",
                   "tickOpacity": {"condition": {"test": "datum.value % 1 === 0", "value": 1}, "value": 0},
                   "gridWidth": {"condition": {"test": "datum.value % 1 === 0", "value": 1.6}, "value": 0.8}}},
    "color": {"field": "class", "type": "nominal", "legend": null}
   }},
  {"data": {"name": "cut"}, "mark": {"type": "rule", "color": "#4D4D4D", "strokeWidth": 1.5, "strokeDash": [10, 7]},
   "encoding": {"y": {"field": "alpha_log", "type": "quantitative"}}}
 ]}
],
"config": {
 "font": "DejaVu Sans",
 "view": {"stroke": "#333333", "strokeWidth": 1.1},
 "concat": {"spacing": 16},
 "axis": {"gridColor": "#EBEBEB", "gridWidth": 1.6, "tickColor": "#333333", "tickSize": 5, "tickWidth": 1.1, "domain": false, "labelColor": "#4D4D4D", "titleColor": "#000000", "titleFontWeight": "normal"},
 "title": {"fontSize": 16, "fontWeight": "normal", "anchor": "start", "frame": "group", "color": "#000000", "offset": 12}
}
}
